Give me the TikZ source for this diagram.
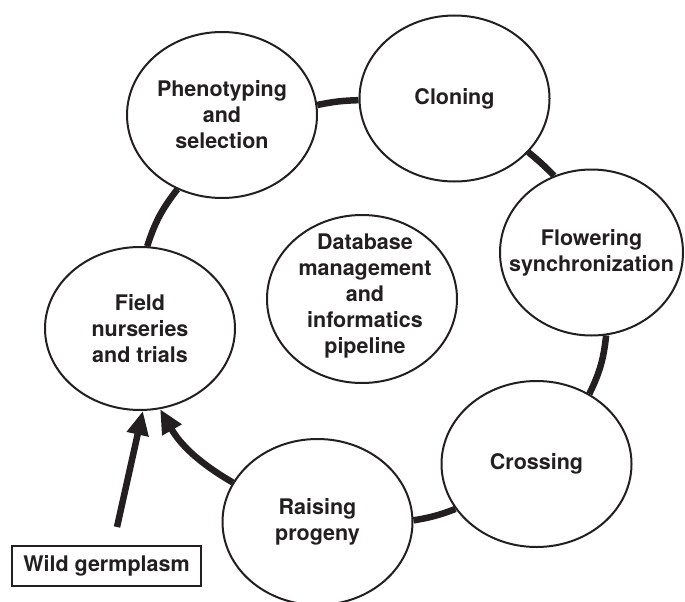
\documentclass[tikz,border=0pt]{standalone}
\usepackage{fontspec}
\setmainfont{TeX Gyre Heros}
\usetikzlibrary{shapes.geometric,arrows.meta}
\definecolor{ink}{HTML}{231F20}
\begin{document}
\begin{tikzpicture}[x=1pt,y=1pt,
  bubble/.style={ellipse,draw=ink,line width=2pt,minimum width=190pt,minimum height=166pt,inner sep=0pt},
  lbl/.style={font=\bfseries\fontsize{21.5}{26}\selectfont,text=ink,align=center,inner sep=0pt},
  link/.style={draw=ink,line width=6.5pt},
  tipped/.style={-{Triangle[length=24pt,width=21pt]}},
  box/.style={draw=ink,line width=1.5pt,minimum width=189pt,minimum height=40pt,inner sep=0pt,font=\bfseries\fontsize{21.5}{26}\selectfont,text=ink}
]
\useasboundingbox (0,0) rectangle (685,-602);

\node[bubble] (phen) at (222,-115) {};
\node[lbl] (phent) at (phen) {Phenotyping\\and\\selection};

\node[bubble] (clon) at (454.5,-98.5) {};
\node[lbl] (clont) at (clon) {Cloning};

\node[bubble,minimum width=183pt] (flow) at (591.5,-252.5) {};
\node[lbl] (flowt) at (flow) {Flowering\\synchronization};

\node[bubble] (cross) at (536.5,-464) {};
\node[lbl] (crosst) at (cross) {Crossing};

\node[bubble] (rais) at (317.5,-522) {};
\node[lbl] (raist) at (rais) {Raising\\progeny};

\node[bubble,minimum height=163pt] (field) at (140,-328.5) {};
\node[lbl] (fieldt) at (field) {Field\\nurseries\\and trials};

\node[bubble,minimum height=168pt] (db) at (362,-299) {};
\node[lbl] (dbt) at (365,-296) {Database\\management\\and\\informatics\\pipeline};

\node[box] (wild) at (106.5,-566) {Wild germplasm};

\draw[link] (phen.6.5) to[bend left=5] (clon.181);
\draw[link] (clon.-36) to[bend left=3] (flow.116);
\draw[link] (flow.-80) to[bend left=10] (cross.53);
\draw[link] (cross.209) to[bend left=6] (rais.1);
\draw[link,tipped] (rais.155) to[bend left=15] (field.-76);
\draw[link] (field.85) to[bend left=10] (phen.-121);
\coordinate (ws) at (117,-527);
\draw[link,tipped] (ws) -- (field.-88);
\end{tikzpicture}
\end{document}
